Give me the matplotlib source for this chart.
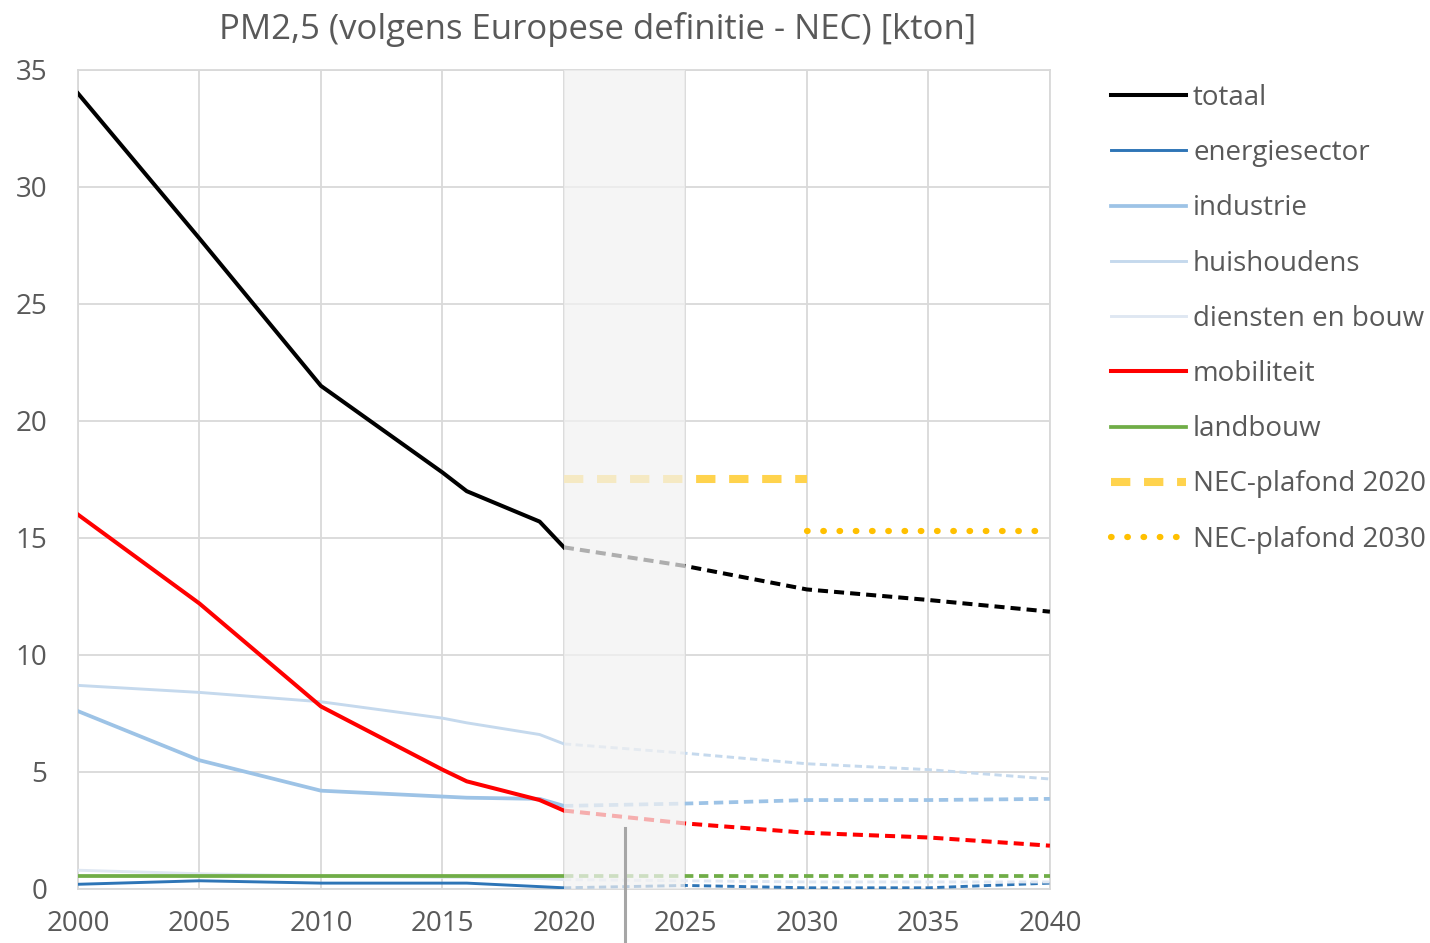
import matplotlib
matplotlib.use('Agg')
import matplotlib.pyplot as plt

# ---- data (kton PM2,5) ----
hist_years = [2000, 2005, 2010, 2015, 2016, 2019, 2020]
proj_years = [2020, 2025, 2030, 2035, 2040]

totaal_hist = [34.0, 27.8, 21.5, 17.8, 17.0, 15.7, 14.6]
totaal_proj = [14.6, 13.8, 12.8, 12.35, 11.85]
energie_hist = [0.2, 0.35, 0.25, 0.25, 0.25, 0.1, 0.05]
energie_proj = [0.05, 0.15, 0.05, 0.05, 0.25]
industrie_hist = [7.6, 5.5, 4.2, 3.95, 3.9, 3.85, 3.55]
industrie_proj = [3.55, 3.65, 3.8, 3.8, 3.85]
huish_hist = [8.7, 8.4, 8.0, 7.3, 7.1, 6.6, 6.2]
huish_proj = [6.2, 5.8, 5.35, 5.1, 4.7]
diensten_hist = [0.8, 0.65, 0.55, 0.5, 0.5, 0.45, 0.4]
diensten_proj = [0.4, 0.35, 0.3, 0.3, 0.3]
mobiliteit_hist = [16.0, 12.2, 7.8, 5.1, 4.6, 3.8, 3.35]
mobiliteit_proj = [3.35, 2.8, 2.4, 2.2, 1.85]
landbouw_hist = [0.55, 0.55, 0.55, 0.55, 0.55, 0.55, 0.55]
landbouw_proj = [0.55, 0.55, 0.55, 0.55, 0.55]

nec2020_years = [2020, 2030]
nec2020 = [17.5, 17.5]
nec2030_years = [2030, 2040]
nec2030 = [15.3, 15.3]

labels = ['totaal', 'energiesector', 'industrie', 'huishoudens',
          'diensten en bouw', 'mobiliteit', 'landbouw']

plt.rcParams['font.family'] = ['Open Sans', 'DejaVu Sans']
txt = '#595959'
grid = '#d9d9d9'

fig = plt.figure(figsize=(14.3, 9.43), dpi=100)
ax = fig.add_axes([0.0545, 0.0573, 0.6797, 0.8685])

series = [
    (totaal_hist, totaal_proj, '#000000', 2.9),
    (energie_hist, energie_proj, '#2e75b6', 2.1),
    (industrie_hist, industrie_proj, '#9dc3e6', 2.7),
    (huish_hist, huish_proj, '#c5d9ed', 2.1),
    (diensten_hist, diensten_proj, '#dfe7f2', 2.1),
    (mobiliteit_hist, mobiliteit_proj, '#ff0000', 2.9),
    (landbouw_hist, landbouw_proj, '#70ad47', 2.7),
]
order = [4, 3, 2, 1, 6, 5, 0]
handles = [None] * len(series)
for i in order:
    h, p, c, lw = series[i]
    ln, = ax.plot(hist_years, h, color=c, lw=lw, label=labels[i], zorder=3 + i * 0.1)
    ax.plot(proj_years, p, color=c, lw=lw, dashes=(2.5, 1.5), zorder=3 + i * 0.1)
    handles[i] = ln

n1, = ax.plot(nec2020_years, nec2020, color='#ffd34d', lw=5.8, dashes=(2.4, 1.7),
              label='NEC-plafond 2020', zorder=3)
n2, = ax.plot(nec2030_years, nec2030, color='#ffc000', lw=4.5, dashes=(0.1, 2.5),
              dash_capstyle='round', label='NEC-plafond 2030', zorder=3)
handles += [n1, n2]

# overlay band 2020-2025 (fades the lines underneath)
ax.axvspan(2020, 2025, facecolor='#f2f2f2', alpha=0.72, edgecolor='none', zorder=4)

# grey marker line below the axis
ax.plot([2022.5, 2022.5], [2.6, -2.4], color='#a6a6a6', lw=2.2, clip_on=False, zorder=5)

ax.set_xlim(2000, 2040)
ax.set_ylim(0, 35)
ax.set_xticks(range(2000, 2041, 5))
ax.set_yticks(range(0, 36, 5))
ax.grid(True, color=grid, lw=1.3)
ax.set_axisbelow(True)
for s in ax.spines.values():
    s.set_color(grid)
    s.set_linewidth(1.3)
ax.tick_params(length=0, labelsize=20, colors=txt)
ax.tick_params(axis='x', pad=15)
ax.tick_params(axis='y', pad=22)

fig.text(0.418, 0.969, 'PM2,5 (volgens Europese definitie - NEC) [kton]',
         ha='center', va='center', fontsize=25, color=txt)

leg = fig.legend(handles=handles, loc='upper left', bbox_to_anchor=(0.777, 0.911),
                 frameon=False, fontsize=20, handlelength=2.7, handletextpad=0.25,
                 labelspacing=0.98, borderaxespad=0, borderpad=0)
for t in leg.get_texts():
    t.set_color(txt)

fig.savefig('out.png', dpi=100)
